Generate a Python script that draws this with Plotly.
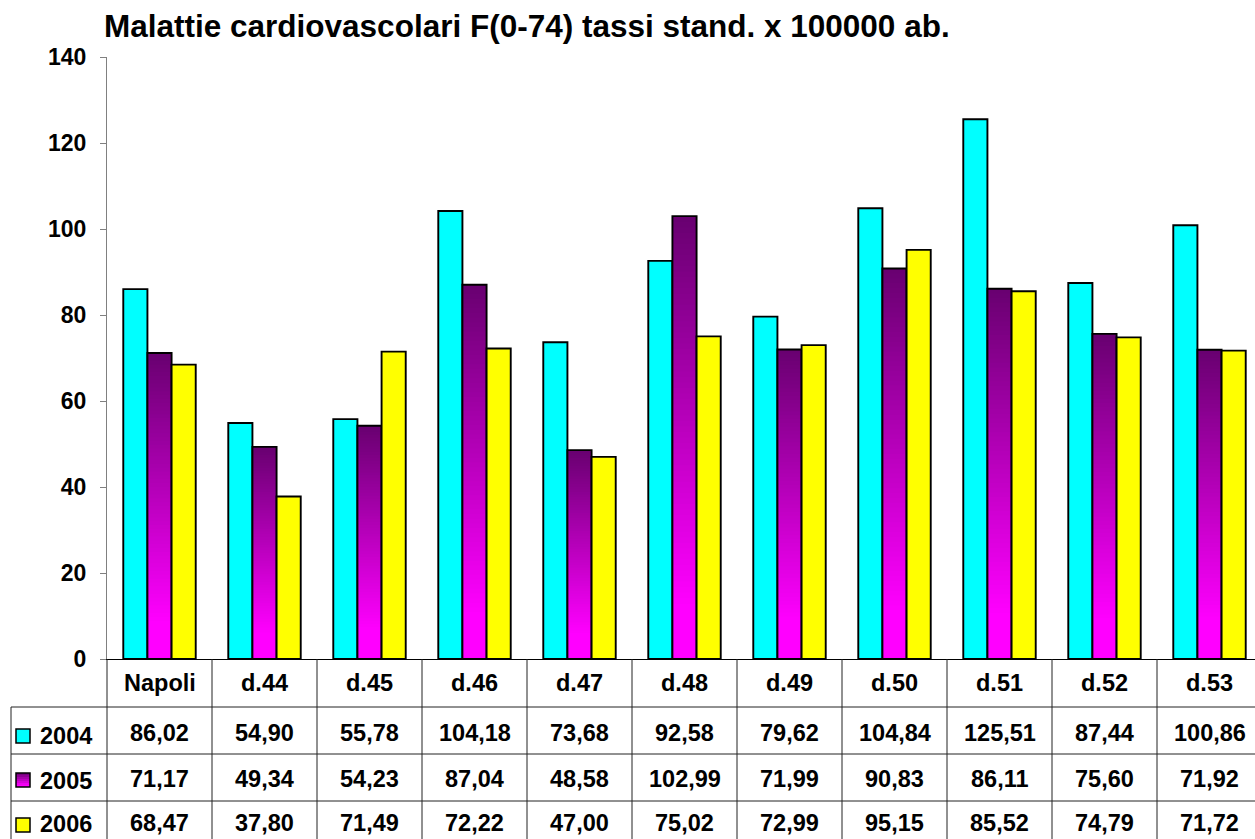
import plotly.graph_objects as go

# ---------------- data ----------------
categories = ["Napoli", "d.44", "d.45", "d.46", "d.47", "d.48",
              "d.49", "d.50", "d.51", "d.52", "d.53"]
series_names = ["2004", "2005", "2006"]
v2004 = [86.02, 54.90, 55.78, 104.18, 73.68, 92.58, 79.62, 104.84, 125.51, 87.44, 100.86]
v2005 = [71.17, 49.34, 54.23, 87.04, 48.58, 102.99, 71.99, 90.83, 86.11, 75.60, 71.92]
v2006 = [68.47, 37.80, 71.49, 72.22, 47.00, 75.02, 72.99, 95.15, 85.52, 74.79, 71.72]
y_ticks = [0, 20, 40, 60, 80, 100, 120, 140]
title_text = "Malattie cardiovascolari F(0-74) tassi stand. x 100000 ab."

# ---------------- geometry / style ----------------
W, H = 1255, 839
L, T, B = 107, 57, 659          # plot area left, top, bottom (pixels)
PW, PH = W - L, B - T
CAT_PX = 105.0                   # pixel width of one category
x_end = -0.5 + PW / CAT_PX

FONT = "Liberation Sans, Arial, Helvetica, sans-serif"
FS = 23.5
FS_TICK = 23
CYAN = "#00FFFF"
YELLOW = "#FFFF00"
GRID_C = "#222222"


def px_x(px):
    return (px - L) / PW


def px_y(py):
    return (B - py) / PH


def fmt(v):
    return f"{v:.2f}".replace(".", ",")


def purple(t):
    # t = 0 at bottom (magenta) ... 1 at top (dark purple)
    top = (104, 0, 112)
    bot = (255, 0, 255)
    s = max(0.0, (t - 0.12) / 0.88)
    c = [round(b + (tp - b) * s) for b, tp in zip(bot, top)]
    return f"rgb({c[0]},{c[1]},{c[2]})"


bw = 0.23
offs = [-0.345, -0.115, 0.115]
LW = 1.9

fig = go.Figure()

# 2004
fig.add_trace(go.Bar(x=categories, y=v2004, name="2004", width=bw, offset=offs[0],
                     marker=dict(color=CYAN, line=dict(color="black", width=LW))))

# 2005 gradient: overlapping bars from the values, tallest (darkest top) first
N = 80
for k in range(N - 1, -1, -1):
    col = purple((k + 0.5) / N)
    fig.add_trace(go.Bar(x=categories, y=[v * (k + 1) / N for v in v2005],
                         width=bw, offset=offs[1], showlegend=False, hoverinfo="skip",
                         marker=dict(color=col, line=dict(width=0))))
fig.add_trace(go.Bar(x=categories, y=v2005, name="2005", width=bw, offset=offs[1],
                     marker=dict(color="rgba(0,0,0,0)", line=dict(color="black", width=LW))))

# 2006
fig.add_trace(go.Bar(x=categories, y=v2006, name="2006", width=bw, offset=offs[2],
                     marker=dict(color=YELLOW, line=dict(color="black", width=LW))))

# ---------------- data table ----------------
shapes = []
annotations = []
table_bottom = px_y(850)
row_lines = [707, 754, 801]

# vertical category separators
for i in range(len(categories)):
    shapes.append(dict(type="line", xref="x", yref="paper", x0=i + 0.5, x1=i + 0.5,
                       y0=px_y(B), y1=table_bottom, line=dict(color=GRID_C, width=1)))
shapes.append(dict(type="line", xref="paper", yref="paper", x0=0, x1=0,
                   y0=px_y(B), y1=table_bottom, line=dict(color=GRID_C, width=1)))
# left border of legend column
shapes.append(dict(type="line", xref="paper", yref="paper", x0=px_x(11), x1=px_x(11),
                   y0=px_y(row_lines[0]), y1=table_bottom, line=dict(color=GRID_C, width=1)))
# horizontal row lines
for r in row_lines:
    shapes.append(dict(type="line", xref="paper", yref="paper", x0=px_x(11), x1=px_x(W + 20),
                       y0=px_y(r), y1=px_y(r), line=dict(color=GRID_C, width=1)))

# header labels
for c in categories:
    annotations.append(dict(xref="x", yref="paper", x=c, y=px_y(683), text=f"<b>{c}</b>",
                            showarrow=False, xanchor="center", yanchor="middle",
                            font=dict(family=FONT, size=FS, color="black")))

rows = [(v2004, 733, 736), (v2005, 779, 781), (v2006, 823, 823.5)]
for (vals, yc, yl), name in zip(rows, series_names):
    for c, v in zip(categories, vals):
        annotations.append(dict(xref="x", yref="paper", x=c, y=px_y(yc), text=f"<b>{fmt(v)}</b>",
                                showarrow=False, xanchor="center", yanchor="middle",
                                font=dict(family=FONT, size=FS, color="black")))
    annotations.append(dict(xref="paper", yref="paper", x=px_x(38), y=px_y(yl), text=f"<b>{name}</b>",
                            showarrow=False, xanchor="left", yanchor="middle",
                            font=dict(family=FONT, size=FS, color="black")))

# legend keys
key_x0, key_x1 = px_x(16), px_x(30)
key_centers = [736, 780, 825]
shapes.append(dict(type="rect", xref="paper", yref="paper", x0=key_x0, x1=key_x1,
                   y0=px_y(key_centers[0] + 7), y1=px_y(key_centers[0] - 7),
                   fillcolor=CYAN, line=dict(color="black", width=1.5)))
ns = 7
for k in range(ns - 1, -1, -1):
    yb = key_centers[1] + 7
    yt = key_centers[1] + 7 - 14 * (k + 1) / ns
    shapes.append(dict(type="rect", xref="paper", yref="paper", x0=key_x0, x1=key_x1,
                       y0=px_y(yb), y1=px_y(yt), fillcolor=purple((k + 0.5) / ns),
                       line=dict(width=0)))
shapes.append(dict(type="rect", xref="paper", yref="paper", x0=key_x0, x1=key_x1,
                   y0=px_y(key_centers[1] + 7), y1=px_y(key_centers[1] - 7),
                   fillcolor="rgba(0,0,0,0)", line=dict(color="black", width=1.5)))
shapes.append(dict(type="rect", xref="paper", yref="paper", x0=key_x0, x1=key_x1,
                   y0=px_y(key_centers[2] + 7), y1=px_y(key_centers[2] - 7),
                   fillcolor=YELLOW, line=dict(color="black", width=1.5)))

fig.update_layout(
    width=W, height=H,
    margin=dict(l=L, r=0, t=T, b=H - B, pad=0),
    paper_bgcolor="white", plot_bgcolor="white",
    barmode="overlay", showlegend=False,
    title=dict(text=f"<b>{title_text}</b>", xref="container", yref="container",
               x=104 / W, xanchor="left", y=1 - 26 / H, yanchor="middle",
               font=dict(family=FONT, size=31.5, color="black")),
    xaxis=dict(range=[-0.5, x_end], showgrid=False, zeroline=False, showticklabels=False,
               ticks="", showline=True, linecolor="black", linewidth=1, fixedrange=True),
    yaxis=dict(range=[0, 140], tickvals=y_ticks, ticks="outside", ticklen=6, tickcolor="#808080",
               showgrid=False, zeroline=False, showline=True, linecolor="#808080", linewidth=1,
               ticklabelstandoff=9,
               tickfont=dict(family=FONT, size=FS_TICK, color="black", weight="bold")),
    shapes=shapes, annotations=annotations,
)

fig.write_html("out.html")
